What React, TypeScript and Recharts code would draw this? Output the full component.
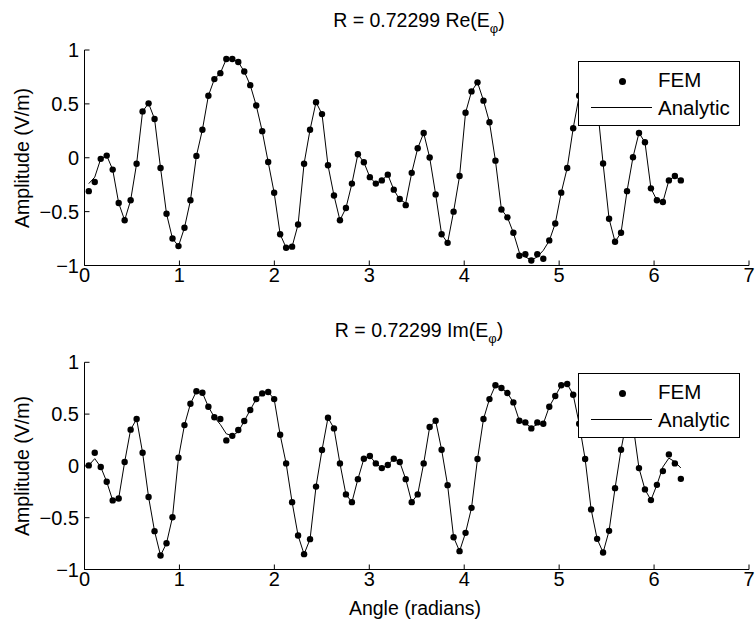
import React from 'react';
import { ComposedChart, Line, XAxis, YAxis, Legend } from 'recharts';

// angle samples (radians)
const angles = [
  0.045, 0.108, 0.171, 0.234, 0.297, 0.36, 0.423, 0.486, 0.549, 0.612,
  0.675, 0.738, 0.801, 0.864, 0.927, 0.99, 1.053, 1.116, 1.179, 1.242,
  1.305, 1.368, 1.431, 1.494, 1.557, 1.62, 1.683, 1.746, 1.809, 1.872,
  1.935, 1.998, 2.061, 2.124, 2.187, 2.25, 2.313, 2.376, 2.439, 2.502,
  2.565, 2.628, 2.691, 2.754, 2.817, 2.88, 2.943, 3.006, 3.069, 3.132,
  3.195, 3.258, 3.321, 3.384, 3.447, 3.51, 3.573, 3.636, 3.699, 3.762,
  3.825, 3.888, 3.951, 4.014, 4.077, 4.14, 4.203, 4.266, 4.329, 4.392,
  4.455, 4.518, 4.581, 4.644, 4.707, 4.77, 4.833, 4.896, 4.959, 5.022,
  5.085, 5.148, 5.211, 5.274, 5.337, 5.4, 5.463, 5.526, 5.589, 5.652,
  5.715, 5.778, 5.841, 5.904, 5.967, 6.03, 6.093, 6.156, 6.219, 6.282,
];

const reFem = [
  -0.31, -0.225, -0.01, 0.02, -0.11, -0.42, -0.58, -0.395, -0.055, 0.43,
  0.505, 0.36, -0.095, -0.52, -0.75, -0.82, -0.65, -0.395, 0.017, 0.26,
  0.575, 0.73, 0.785, 0.916, 0.916, 0.888, 0.8, 0.674, 0.485, 0.247,
  -0.04, -0.325, -0.71, -0.835, -0.825, -0.62, -0.055, 0.26, 0.516, 0.405,
  -0.07, -0.35, -0.58, -0.467, -0.24, 0.033, -0.042, -0.18, -0.24, -0.21,
  -0.157, -0.296, -0.383, -0.44, -0.14, 0.088, 0.23, 0.002, -0.34, -0.71,
  -0.79, -0.5, -0.17, 0.417, 0.616, 0.7, 0.53, 0.33, -0.027, -0.48,
  -0.553, -0.696, -0.91, -0.895, -0.953, -0.895, -0.938, -0.767, -0.61, -0.324,
  -0.095, 0.274, 0.575, 0.8, 0.82, 0.5, -0.054, -0.566, -0.78, -0.696,
  -0.31, 0.005, 0.23, 0.144, -0.284, -0.395, -0.41, -0.21, -0.17, -0.21,
];

const reAnalytic = [
  -0.24, -0.18, -0.01, 0.02, -0.11, -0.42, -0.58, -0.395, -0.055, 0.43,
  0.505, 0.36, -0.095, -0.52, -0.75, -0.82, -0.65, -0.395, 0.017, 0.26,
  0.575, 0.73, 0.785, 0.916, 0.916, 0.888, 0.8, 0.674, 0.485, 0.247,
  -0.04, -0.325, -0.71, -0.835, -0.825, -0.62, -0.055, 0.26, 0.516, 0.405,
  -0.07, -0.35, -0.58, -0.467, -0.24, 0.033, -0.042, -0.18, -0.24, -0.21,
  -0.157, -0.296, -0.39, -0.42, -0.14, 0.088, 0.23, 0.002, -0.34, -0.71,
  -0.79, -0.5, -0.17, 0.417, 0.616, 0.7, 0.53, 0.33, -0.027, -0.48,
  -0.553, -0.696, -0.88, -0.92, -0.95, -0.92, -0.86, -0.77, -0.61, -0.324,
  -0.095, 0.274, 0.575, 0.8, 0.82, 0.5, -0.054, -0.566, -0.78, -0.696,
  -0.31, 0.005, 0.23, 0.144, -0.284, -0.395, -0.41, -0.21, -0.17, -0.21,
];

const imFem = [
  0.005, 0.127, -0.01, -0.153, -0.333, -0.314, 0.037, 0.35, 0.452, 0.127,
  -0.3, -0.63, -0.865, -0.746, -0.495, 0.078, 0.394, 0.6, 0.72, 0.706,
  0.571, 0.469, 0.452, 0.246, 0.29, 0.346, 0.433, 0.54, 0.645, 0.7,
  0.713, 0.645, 0.3, 0.024, -0.35, -0.672, -0.852, -0.707, -0.2, 0.153,
  0.465, 0.362, 0.024, -0.275, -0.35, -0.128, 0.069, 0.095, 0.024, -0.021,
  0.008, 0.069, 0.037, -0.128, -0.35, -0.275, 0.024, 0.375, 0.436, 0.156,
  -0.186, -0.688, -0.823, -0.646, -0.405, 0.066, 0.452, 0.645, 0.778, 0.752,
  0.703, 0.613, 0.436, 0.42, 0.362, 0.42, 0.407, 0.571, 0.674, 0.778,
  0.79, 0.687, 0.407, 0.066, -0.42, -0.704, -0.836, -0.627, -0.215, 0.156,
  0.46, 0.4, -0.021, -0.227, -0.33, -0.183, -0.05, 0.111, 0.024, -0.125,
];

const imAnalytic = [
  0.005, 0.07, -0.01, -0.153, -0.333, -0.314, 0.037, 0.35, 0.452, 0.127,
  -0.3, -0.63, -0.865, -0.746, -0.495, 0.078, 0.394, 0.6, 0.72, 0.706,
  0.571, 0.47, 0.4, 0.31, 0.29, 0.33, 0.433, 0.54, 0.645, 0.7,
  0.713, 0.645, 0.3, 0.024, -0.35, -0.672, -0.852, -0.707, -0.2, 0.153,
  0.465, 0.362, 0.024, -0.275, -0.35, -0.128, 0.069, 0.095, 0.024, -0.021,
  0.008, 0.069, 0.037, -0.128, -0.35, -0.275, 0.024, 0.375, 0.436, 0.156,
  -0.186, -0.688, -0.823, -0.646, -0.405, 0.066, 0.452, 0.645, 0.778, 0.752,
  0.703, 0.613, 0.436, 0.41, 0.37, 0.4, 0.407, 0.571, 0.674, 0.778,
  0.79, 0.687, 0.407, 0.066, -0.42, -0.704, -0.836, -0.627, -0.215, 0.156,
  0.46, 0.4, -0.021, -0.227, -0.33, -0.183, -0.01, 0.075, 0.04, -0.02,
];

const xTicks = [0, 1, 2, 3, 4, 5, 6, 7];
const yTicks = [-1, -0.5, 0, 0.5, 1];

const FONT = '"Liberation Sans", Arial, Helvetica, sans-serif';
const TICK_FS = 20;

const fmtY = (v: number) => (v < 0 ? `\u2212${Math.abs(v)}` : `${v}`);

const LegendBox = () => (
  <div
    style={{
      width: 162,
      height: 65,
      border: '1px solid #000',
      background: '#fff',
      boxSizing: 'border-box',
      position: 'relative',
      fontFamily: FONT,
      fontSize: 20.5,
      color: '#000',
    }}
  >
    <span style={{ position: 'absolute', left: 40, top: 16, width: 7, height: 7, borderRadius: '50%', background: '#000' }} />
    <span style={{ position: 'absolute', left: 79, top: 6, lineHeight: '24px' }}>FEM</span>
    <span style={{ position: 'absolute', left: 12, top: 45, width: 61, height: 1, background: '#000' }} />
    <span style={{ position: 'absolute', left: 79, top: 34, lineHeight: '24px' }}>Analytic</span>
  </div>
);

interface PanelProps {
  fem: number[];
  analytic: number[];
  height: number;
  top: number;
  xAxisHeight: number;
  legendTop: number;
}

const Panel: React.FC<PanelProps> = ({ fem, analytic, height, top, xAxisHeight, legendTop }) => {
  const data = angles.map((a, i) => ({ angle: a, fem: fem[i], analytic: analytic[i] }));
  return (
    <ComposedChart
      width={756}
      height={height}
      data={data}
      margin={{ top, right: 7, bottom: 4.5, left: 0 }}
    >
      <XAxis
        dataKey="angle"
        type="number"
        domain={[0, 7]}
        ticks={xTicks}
        interval={0}
        height={xAxisHeight}
        stroke="#000"
        tickSize={-5}
        tickMargin={7}
        tick={{ fill: '#000', fontSize: TICK_FS, fontFamily: FONT }}
      />
      <YAxis
        type="number"
        domain={[-1, 1]}
        ticks={yTicks}
        interval={0}
        width={84.5}
        stroke="#000"
        tickSize={-5}
        tickMargin={10.5}
        tickFormatter={fmtY}
        tick={{ fill: '#000', fontSize: TICK_FS, fontFamily: FONT }}
      />
      <Line
        dataKey="analytic"
        type="linear"
        stroke="#000"
        strokeWidth={1}
        dot={false}
        activeDot={false}
        isAnimationActive={false}
      />
      <Line
        dataKey="fem"
        stroke="none"
        dot={{ r: 3.2, fill: '#000', stroke: '#000', strokeWidth: 0 }}
        activeDot={false}
        isAnimationActive={false}
      />
      <Legend
        layout="horizontal"
        align="center"
        verticalAlign="middle"
        content={() => <LegendBox />}
        wrapperStyle={{ position: 'absolute', top: legendTop, left: 578, width: 162, height: 65 }}
      />
    </ComposedChart>
  );
};

const titleStyle: React.CSSProperties = {
  position: 'absolute',
  left: 219,
  width: 400,
  textAlign: 'center',
  fontFamily: FONT,
  fontSize: 19.5,
  lineHeight: '22px',
  color: '#000',
};

const yLabelStyle: React.CSSProperties = {
  position: 'absolute',
  left: -78,
  width: 200,
  height: 24,
  lineHeight: '24px',
  textAlign: 'center',
  transform: 'rotate(-90deg)',
  fontFamily: FONT,
  fontSize: 19.5,
  color: '#000',
};

const Phi = () => (
  <span style={{ fontSize: 13, position: 'relative', top: 6 }}>φ</span>
);

export default function App() {
  return (
    <div style={{ position: 'absolute', left: 0, top: 0, width: 756, height: 628, background: '#fff' }}>
      <div style={{ position: 'absolute', left: 0, top: 0 }}>
        <Panel fem={reFem} analytic={reAnalytic} height={300} top={50} xAxisHeight={30} legendTop={61} />
      </div>
      <div style={{ position: 'absolute', left: 0, top: 310 }}>
        <Panel fem={imFem} analytic={imAnalytic} height={290} top={52.3} xAxisHeight={26} legendTop={63} />
      </div>

      <div style={{ ...titleStyle, top: 8.5 }}>
        R = 0.72299 Re(E<Phi />)
      </div>
      <div style={{ ...titleStyle, top: 318.5 }}>
        R = 0.72299 Im(E<Phi />)
      </div>

      <div style={{ ...yLabelStyle, top: 145.5 }}>Amplitude (V/m)</div>
      <div style={{ ...yLabelStyle, top: 454 }}>Amplitude (V/m)</div>

      <div
        style={{
          position: 'absolute',
          left: 215,
          width: 400,
          top: 596,
          textAlign: 'center',
          fontFamily: FONT,
          fontSize: 19.5,
          lineHeight: '24px',
          color: '#000',
        }}
      >
        Angle (radians)
      </div>
    </div>
  );
}
